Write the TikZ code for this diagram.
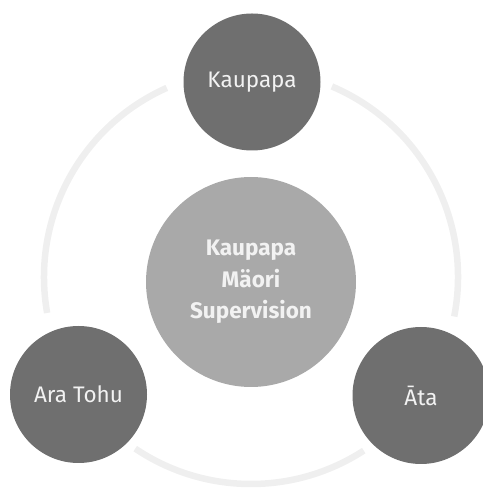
\documentclass[tikz,border=0pt]{standalone}
\usepackage{fontspec}
\setmainfont{Fira Sans}
\usepackage{xcolor}
\usepackage{tikz}
\usetikzlibrary{calc,positioning}
\definecolor{outerfill}{HTML}{6F6F6F}
\definecolor{hubfill}{HTML}{A9A9A9}
\definecolor{labeltext}{HTML}{F2F2F2}
\definecolor{ringline}{HTML}{EFEFEF}

\begin{document}
\begin{tikzpicture}[
  x=1pt, y=1pt,
  conceptnode/.style={
    circle, fill=outerfill, minimum size=137pt, inner sep=0pt,
    text=labeltext, font=\fontsize{22.5}{26}\selectfont,
  },
  hubnode/.style={
    circle, fill=hubfill, minimum size=210pt, inner sep=0pt,
    text=labeltext, align=center,
    font=\fontsize{22.5}{31.5}\selectfont\bfseries,
  },
  ringarc/.style={draw=ringline, line width=6.5pt},
]
\useasboundingbox (0,0) rectangle (482,492);

% faint ring behind the circles
\coordinate (ringc) at (251,215);
\draw[ringarc] (ringc) ++(67:207) arc[start angle=67, end angle=-11, radius=207];
\draw[ringarc] (ringc) ++(114:207) arc[start angle=114, end angle=190, radius=207];
\draw[ringarc] (ringc) ++(236:207) arc[start angle=236, end angle=303, radius=207];

% Centre
\node[hubnode] (hub) at (251,210) {Kaupapa\\Mäori\\Supervision};

% Outer circles
\node[conceptnode] (kaupapa) at (252,410) {Kaupapa};
\node[conceptnode] (aratohu) at (78.5,97.5) {Ara Tohu};
\node[conceptnode] (ata) at (421,96.5) {Āta};

\end{tikzpicture}
\end{document}
